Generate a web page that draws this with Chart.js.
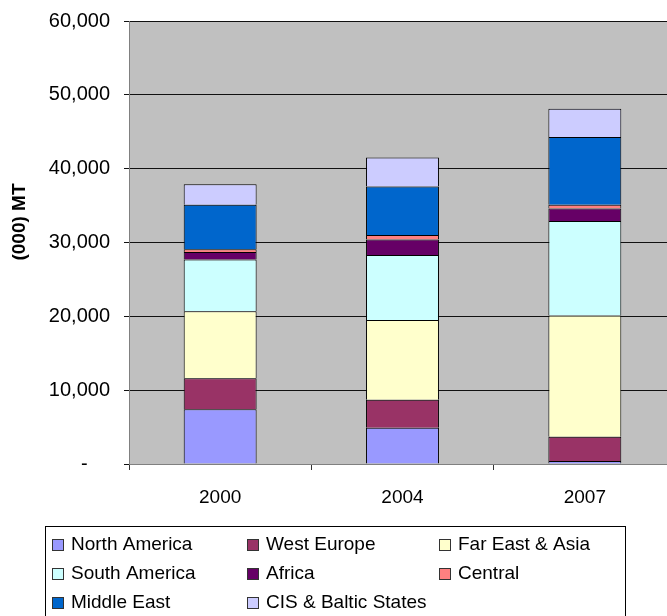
<!DOCTYPE html>
<html>
<head>
<meta charset="utf-8">
<script src="https://cdn.jsdelivr.net/npm/chart.js@4/dist/chart.umd.min.js"></script>
<style>
  html, body { margin: 0; padding: 0; background: #fff; overflow: hidden; }
  #wrap { position: absolute; left: 0; top: 0; width: 676px; height: 616px; }
</style>
</head>
<body>
<div id="wrap"><canvas id="c" width="676" height="616"></canvas></div>
<script>
// ---- data ----
const categories = ['2000', '2004', '2007'];
const northAmerica = [7400, 4900, 400];
const westEurope   = [4200, 3800, 3300];
const farEastAsia  = [9100, 10800, 16400];
const southAmerica = [7000, 8800, 12800];
const africa       = [1000, 2100, 1700];
const central      = [400, 600, 500];
const middleEast   = [6000, 6600, 9200];
const cisBaltic    = [2800, 3900, 3800];
const seriesNames  = ['North America', 'West Europe', 'Far East & Asia', 'South America',
                      'Africa', 'Central', 'Middle East', 'CIS & Baltic States'];
const seriesColors = ['#9999FF', '#993366', '#FFFFCC', '#CCFFFF',
                      '#660066', '#FF8080', '#0066CC', '#CCCCFF'];
const yTickLabels  = ['-    ', '10,000', '20,000', '30,000', '40,000', '50,000', '60,000'];
const yTitle = '(000) MT';

const seriesValues = [northAmerica, westEurope, farEastAsia, southAmerica,
                      africa, central, middleEast, cisBaltic];

const FONT = "'Liberation Sans', Arial, sans-serif";

const plotBg = {
  id: 'plotBg',
  beforeDraw(chart) {
    const { ctx, chartArea: a } = chart;
    ctx.save();
    ctx.fillStyle = '#C0C0C0';
    ctx.fillRect(a.left, a.top, a.right - a.left, a.bottom - a.top);
    ctx.restore();
  }
};

const yTitlePlugin = {
  id: 'yTitlePlugin',
  afterDraw(chart) {
    const ctx = chart.ctx;
    ctx.save();
    ctx.translate(20, 222);
    ctx.rotate(-Math.PI / 2);
    ctx.font = 'bold 19px ' + FONT;
    ctx.fillStyle = '#000';
    ctx.textAlign = 'center';
    ctx.textBaseline = 'middle';
    ctx.fillText(yTitle, 0, 0);
    ctx.restore();
  }
};

const gridLegend = {
  id: 'gridLegend',
  afterDraw(chart) {
    const ctx = chart.ctx;
    const colX = [52, 247, 439];
    const rowY = [545, 574, 603];
    ctx.save();
    ctx.fillStyle = '#fff';
    ctx.fillRect(45.5, 526.5, 580, 100);
    ctx.strokeStyle = '#000';
    ctx.lineWidth = 1;
    ctx.strokeRect(45.5, 526.5, 580, 100);
    ctx.font = '19px ' + FONT;
    ctx.textBaseline = 'middle';
    ctx.textAlign = 'left';
    chart.data.datasets.forEach((ds, i) => {
      const x = colX[i % 3];
      const y = rowY[Math.floor(i / 3)];
      ctx.fillStyle = ds.backgroundColor;
      ctx.fillRect(x, y - 6, 12, 12);
      ctx.strokeStyle = '#333';
      ctx.strokeRect(x + 0.5, y - 5.5, 11, 11);
      ctx.fillStyle = '#000';
      ctx.fillText(ds.label, x + 19, y);
    });
    ctx.restore();
  }
};

new Chart(document.getElementById('c'), {
  type: 'bar',
  data: {
    labels: categories,
    datasets: seriesNames.map((name, i) => ({
      label: name,
      data: seriesValues[i],
      backgroundColor: seriesColors[i],
      borderColor: '#000',
      borderWidth: 1,
      barPercentage: 0.4,
      categoryPercentage: 1.0
    }))
  },
  options: {
    responsive: false,
    animation: false,
    devicePixelRatio: 1,
    layout: { padding: { left: 0, top: 21, right: 0, bottom: 102 } },
    plugins: {
      legend: { display: false },
      tooltip: { enabled: false },
      title: { display: false }
    },
    scales: {
      x: {
        stacked: true,
        afterFit(scale) { scale.height = 50; },
        grid: { drawOnChartArea: false, tickLength: 6, color: '#333', offset: true },
        border: { color: '#808080' },
        ticks: { color: '#000', font: { family: FONT, size: 19 }, padding: 16 }
      },
      y: {
        stacked: true,
        min: 0,
        max: 60000,
        afterFit(scale) { scale.width = 129; },
        grid: { color: '#111', tickLength: 5 },
        border: { color: '#808080' },
        ticks: {
          stepSize: 10000,
          color: '#000',
          font: { family: FONT, size: 20, lineHeight: 0.6 },
          padding: 14,
          callback: (v, i) => yTickLabels[i]
        }
      }
    }
  },
  plugins: [plotBg, yTitlePlugin, gridLegend]
});
</script>
</body>
</html>
